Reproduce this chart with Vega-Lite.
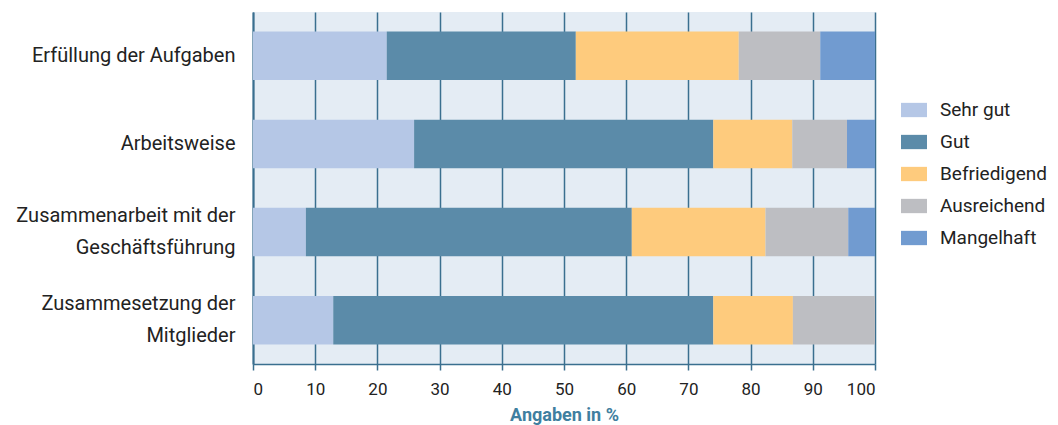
{
  "$schema": "https://vega.github.io/schema/vega-lite/v6.json",
  "autosize": {"type": "none"},
  "padding": {"left": 253, "top": 12, "right": 183, "bottom": 61},
  "width": 622,
  "height": 352,
  "background": "white",
  "data": {"values": [
    {"item": "Erfüllung der Aufgaben", "rating": "Sehr gut", "order": 1, "value": 21.5},
    {"item": "Erfüllung der Aufgaben", "rating": "Gut", "order": 2, "value": 30.4},
    {"item": "Erfüllung der Aufgaben", "rating": "Befriedigend", "order": 3, "value": 26.2},
    {"item": "Erfüllung der Aufgaben", "rating": "Ausreichend", "order": 4, "value": 13.1},
    {"item": "Erfüllung der Aufgaben", "rating": "Mangelhaft", "order": 5, "value": 8.8},
    {"item": "Arbeitsweise", "rating": "Sehr gut", "order": 1, "value": 25.9},
    {"item": "Arbeitsweise", "rating": "Gut", "order": 2, "value": 48.1},
    {"item": "Arbeitsweise", "rating": "Befriedigend", "order": 3, "value": 12.7},
    {"item": "Arbeitsweise", "rating": "Ausreichend", "order": 4, "value": 8.8},
    {"item": "Arbeitsweise", "rating": "Mangelhaft", "order": 5, "value": 4.5},
    {"item": "Zusammenarbeit mit der|Geschäftsführung", "rating": "Sehr gut", "order": 1, "value": 8.5},
    {"item": "Zusammenarbeit mit der|Geschäftsführung", "rating": "Gut", "order": 2, "value": 52.4},
    {"item": "Zusammenarbeit mit der|Geschäftsführung", "rating": "Befriedigend", "order": 3, "value": 21.5},
    {"item": "Zusammenarbeit mit der|Geschäftsführung", "rating": "Ausreichend", "order": 4, "value": 13.3},
    {"item": "Zusammenarbeit mit der|Geschäftsführung", "rating": "Mangelhaft", "order": 5, "value": 4.3},
    {"item": "Zusammesetzung der|Mitglieder", "rating": "Sehr gut", "order": 1, "value": 12.9},
    {"item": "Zusammesetzung der|Mitglieder", "rating": "Gut", "order": 2, "value": 61.1},
    {"item": "Zusammesetzung der|Mitglieder", "rating": "Befriedigend", "order": 3, "value": 12.8},
    {"item": "Zusammesetzung der|Mitglieder", "rating": "Ausreichend", "order": 4, "value": 13.2}
  ]},
  "mark": {"type": "bar", "stroke": null},
  "encoding": {
    "y": {
      "field": "item", "type": "nominal",
      "sort": ["Erfüllung der Aufgaben", "Arbeitsweise", "Zusammenarbeit mit der|Geschäftsführung", "Zusammesetzung der|Mitglieder"],
      "scale": {"paddingInner": 0.45, "paddingOuter": 0.22},
      "axis": {
        "title": null,
        "labelExpr": "split(datum.value, '|')",
        "labelBaseline": {"condition": {"test": "indexof(datum.value, '|') >= 0", "value": "line-bottom"}, "value": "middle"},
        "labelFont": "Roboto", "labelFontSize": 20, "labelColor": "#222222",
        "labelLineHeight": 32, "labelPadding": 18, "labelLimit": 260,
        "ticks": false, "domain": true, "domainColor": "#3a6f8f", "domainWidth": 2,
        "grid": false
      }
    },
    "x": {
      "field": "value", "type": "quantitative", "stack": "zero",
      "scale": {"domain": [0, 100], "nice": false},
      "axis": {
        "title": "Angaben in %",
        "titleFont": "Roboto", "titleFontSize": 18, "titleFontWeight": "bold", "titleColor": "#3f7fa0",
        "titlePadding": 9,
        "values": [0, 10, 20, 30, 40, 50, 60, 70, 80, 90, 100],
        "labelFont": "Roboto", "labelFontSize": 17, "labelColor": "#222222", "labelPadding": 11,
        "grid": true, "gridColor": "#3a6f8f", "gridWidth": 1.5, "gridOpacity": 1,
        "domainColor": "#3a6f8f", "domainWidth": 1.5,
        "tickColor": "#3a6f8f", "tickSize": 6, "tickWidth": 1.5
      }
    },
    "color": {
      "field": "rating", "type": "nominal",
      "scale": {
        "domain": ["Sehr gut", "Gut", "Befriedigend", "Ausreichend", "Mangelhaft"],
        "range": ["#b5c7e6", "#5b8ba9", "#fecb7d", "#bdbec2", "#719bd0"]
      },
      "legend": {
        "title": null, "orient": "none", "legendX": 648, "legendY": 85,
        "symbolType": "M-1,-0.55H1V0.55H-1Z", "symbolSize": 676, "symbolStrokeWidth": 0,
        "labelFont": "Roboto", "labelFontSize": 19, "labelColor": "#222222",
        "labelOffset": 13, "rowPadding": 9, "labelLimit": 200
      }
    },
    "order": {"field": "order", "type": "quantitative"}
  },
  "config": {
    "view": {"fill": "#e4ecf4", "stroke": null}
  }
}
